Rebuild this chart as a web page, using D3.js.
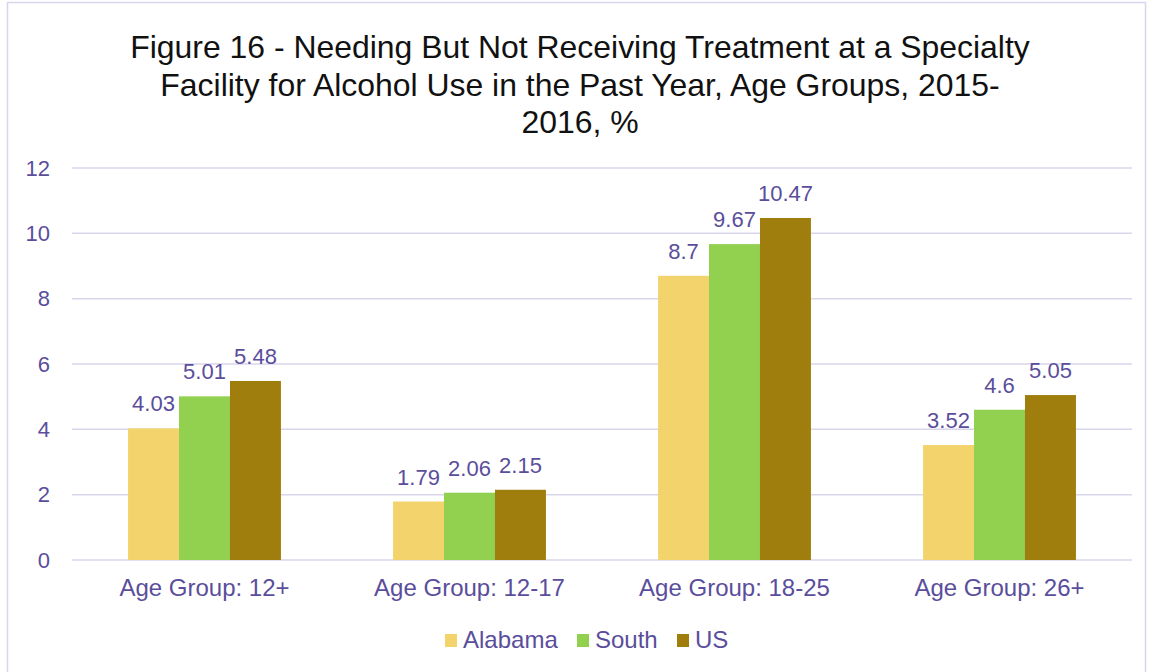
<!DOCTYPE html>
<html>
<head>
<meta charset="utf-8">
<script src="https://cdn.jsdelivr.net/npm/d3@7"></script>
<style>
  body { margin: 0; background: #fff; }
  svg { display: block; font-family: "Liberation Sans", Arial, sans-serif; }
</style>
</head>
<body>
<svg id="chart" width="1151" height="672"></svg>
<script>
var categories = ["Age Group: 12+", "Age Group: 12-17", "Age Group: 18-25", "Age Group: 26+"];
var seriesNames = ["Alabama", "South", "US"];
var alabama = [4.03, 1.79, 8.7, 3.52];
var south = [5.01, 2.06, 9.67, 4.6];
var us = [5.48, 2.15, 10.47, 5.05];
var yTicks = [0, 2, 4, 6, 8, 10, 12];
var titleLines = [
  "Figure 16 - Needing But Not Receiving Treatment at a Specialty",
  "Facility for Alcohol Use in the Past Year, Age Groups, 2015-",
  "2016, %"
];

var colors = ["#F3D46C", "#92D050", "#A07E0E"];
var textColor = "#5A4E9C";
var gridColor = "#D9D6EB";

var svg = d3.select("#chart");

// outer frame
svg.append("rect")
  .attr("x", 7.5).attr("y", 2.5)
  .attr("width", 1138).attr("height", 690)
  .attr("fill", "none")
  .attr("stroke", gridColor)
  .attr("stroke-width", 1.5);

var plotLeft = 72, plotRight = 1132, plotTop = 168, plotBottom = 560;

var x0 = d3.scaleBand().domain(categories).range([plotLeft, plotRight]);
var x1 = d3.scaleBand().domain(seriesNames).range([0, x0.bandwidth()]).paddingOuter(1.1);
var y = d3.scaleLinear().domain([0, 12]).range([plotBottom, plotTop]);

// title
var title = svg.append("g").selectAll("text")
  .data(titleLines)
  .enter().append("text")
  .attr("x", 580)
  .attr("y", function (d, i) { return 58 + i * 37.5; })
  .attr("text-anchor", "middle")
  .attr("font-family", "'Liberation Sans Narrow', 'Liberation Sans', sans-serif")
  .attr("font-size", 32)
  .attr("fill", "#111")
  .text(function (d) { return d; });

// squeeze the first title line to the reference width if the narrow face is missing
var firstLen = title.node().getComputedTextLength();
if (firstLen > 0) {
  title.attr("font-size", 32 * 900 / firstLen);
}

// gridlines
svg.append("g").selectAll("line")
  .data(yTicks)
  .enter().append("line")
  .attr("x1", plotLeft).attr("x2", plotRight)
  .attr("y1", function (d) { return y(d); })
  .attr("y2", function (d) { return y(d); })
  .attr("stroke", gridColor)
  .attr("stroke-width", 1.5);

// y axis labels
var yAxis = d3.axisLeft(y).tickValues(yTicks).tickSize(0).tickPadding(0);
var yg = svg.append("g").attr("transform", "translate(50,0)").call(yAxis);
yg.select(".domain").remove();
yg.selectAll("text")
  .attr("font-size", 22)
  .attr("font-family", "'Liberation Sans', Arial, sans-serif")
  .attr("fill", textColor);

// bars
var seriesData = [alabama, south, us];
function rows(d, i) {
  return seriesNames.map(function (s, j) { return { s: s, v: seriesData[j][i], j: j }; });
}
var groups = svg.append("g").selectAll("g")
  .data(categories)
  .enter().append("g")
  .attr("transform", function (d) { return "translate(" + x0(d) + ",0)"; });

groups.selectAll("rect")
  .data(rows)
  .enter().append("rect")
  .attr("x", function (d) { return x1(d.s); })
  .attr("width", x1.bandwidth())
  .attr("y", function (d) { return y(d.v); })
  .attr("height", function (d) { return y(0) - y(d.v); })
  .attr("fill", function (d) { return colors[d.j]; });

groups.selectAll("text")
  .data(rows)
  .enter().append("text")
  .attr("x", function (d) { return x1(d.s) + x1.bandwidth() / 2; })
  .attr("y", function (d) { return y(d.v) - 17; })
  .attr("text-anchor", "middle")
  .attr("font-size", 22)
  .attr("fill", textColor)
  .text(function (d) { return d.v; });

// x axis labels
var xAxis = d3.axisBottom(x0).tickSize(0).tickPadding(0);
var xg = svg.append("g").attr("transform", "translate(0," + (plotBottom + 19) + ")").call(xAxis);
xg.select(".domain").remove();
xg.selectAll("text")
  .attr("font-size", 24)
  .attr("font-family", "'Liberation Sans', Arial, sans-serif")
  .attr("fill", textColor);

// legend
var legendX = [445, 577, 677];
var legend = svg.append("g").selectAll("g")
  .data(seriesNames)
  .enter().append("g")
  .attr("transform", function (d, i) { return "translate(" + legendX[i] + ",634)"; });
legend.append("rect")
  .attr("width", 12).attr("height", 13)
  .attr("fill", function (d, i) { return colors[i]; });
legend.append("text")
  .attr("x", 18).attr("y", 14)
  .attr("font-size", 24)
  .attr("fill", textColor)
  .text(function (d) { return d; });
</script>
</body>
</html>
